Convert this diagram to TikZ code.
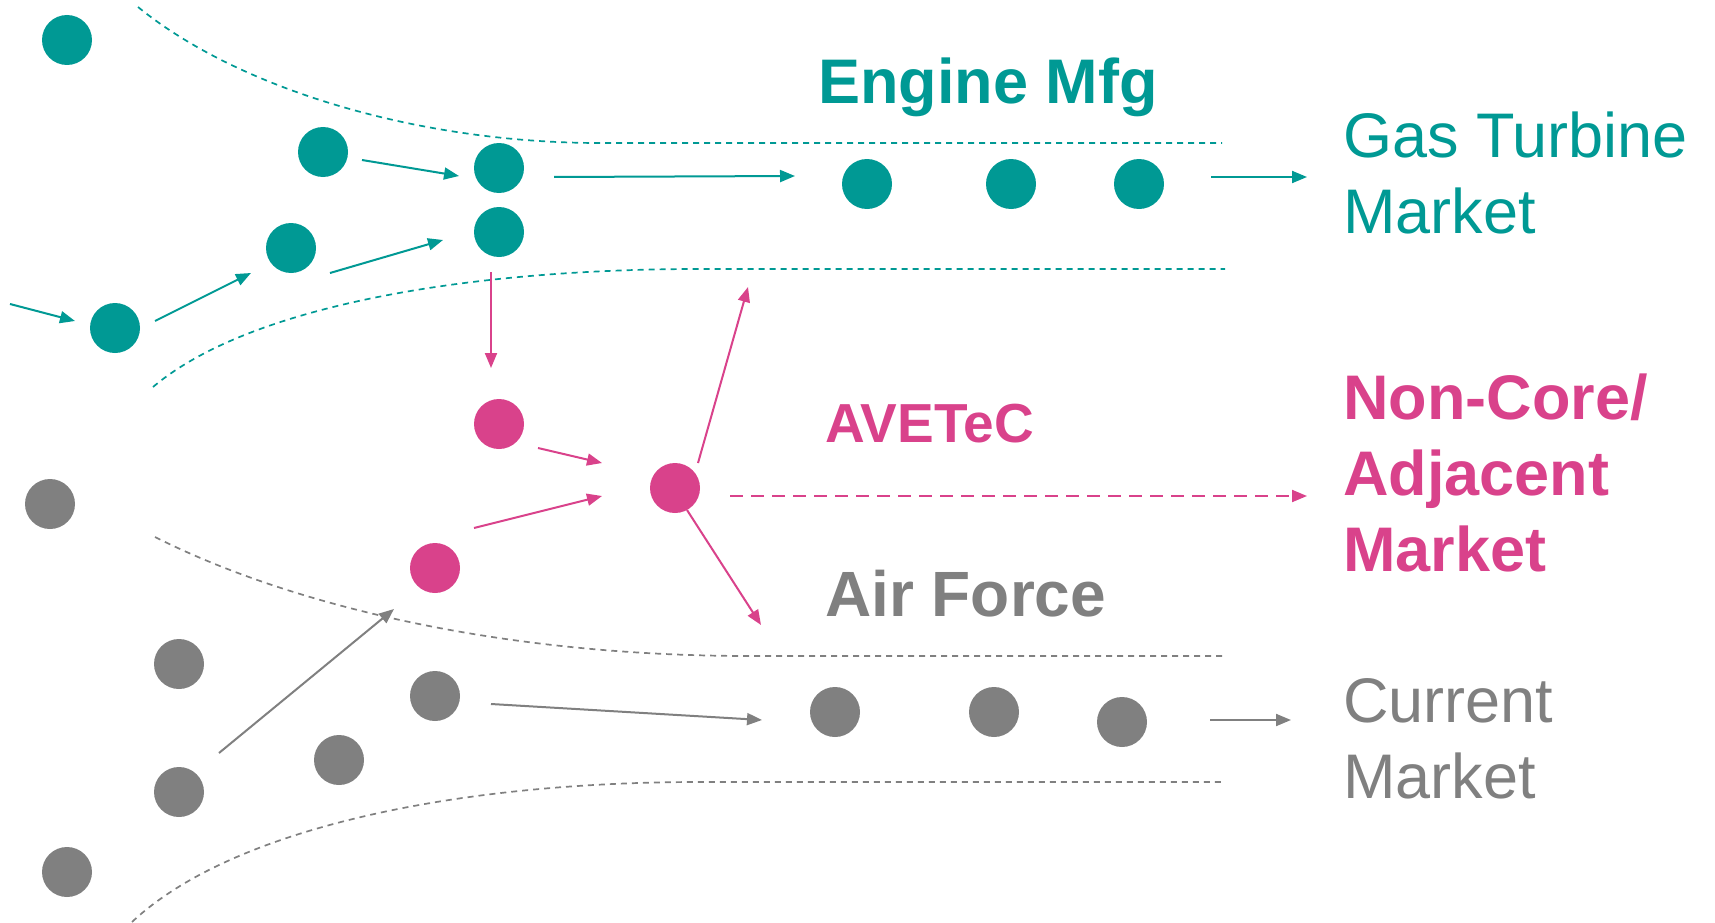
\documentclass[tikz,border=0pt]{standalone}
\usepackage{fontspec}
\setmainfont{Liberation Sans}
\usetikzlibrary{arrows.meta}
\definecolor{teal1}{RGB}{0,153,148}
\definecolor{pink1}{RGB}{217,66,139}
\definecolor{gray1}{RGB}{128,128,128}
\tikzset{
  dot/.style={circle,inner sep=0pt,minimum size=50pt,fill=#1,draw=none},
  arr/.style={draw=#1,line width=2pt,-{Triangle[length=15pt,width=12pt]}},
  bound/.style={draw=#1,line width=1.7pt,dash pattern=on 6pt off 5pt},
  lbl/.style={inner sep=0pt,anchor=base west,align=left,text=#1},
  big/.style={font=\fontsize{63}{76}\selectfont},
  bigb/.style={font=\fontsize{63}{76}\selectfont\bfseries},
}
\begin{document}
\begin{tikzpicture}[x=1pt,y=-1pt]
\useasboundingbox (0,0) rectangle (1715,923);
% boundaries
\draw[bound=teal1] (138,7) .. controls (240,90) and (420,143) .. (600,143) -- (1222,143);
\draw[bound=teal1] (153,387) .. controls (250,305) and (470,269) .. (700,269) -- (1225,269);
\draw[bound=gray1] (155,537) .. controls (290,605) and (500,656) .. (750,656) -- (1222,656);
\draw[bound=gray1] (132,922) .. controls (230,830) and (450,782) .. (700,782) -- (1225,782);
% teal dots
\node[dot=teal1] (t1) at (67,40) {};
\node[dot=teal1] (t2) at (323,152) {};
\node[dot=teal1] (t3) at (499,168) {};
\node[dot=teal1] (t4) at (499,232) {};
\node[dot=teal1] (t5) at (291,248) {};
\node[dot=teal1] (t6) at (115,328) {};
\node[dot=teal1] (t7) at (867,184) {};
\node[dot=teal1] (t8) at (1011,184) {};
\node[dot=teal1] (t9) at (1139,184) {};
% pink dots
\node[dot=pink1] (p1) at (499,424) {};
\node[dot=pink1] (p2) at (435,568) {};
\node[dot=pink1] (p3) at (675,488) {};
% gray dots
\node[dot=gray1] (g1) at (50,504) {};
\node[dot=gray1] (g2) at (179,664) {};
\node[dot=gray1] (g3) at (179,792) {};
\node[dot=gray1] (g4) at (67,872) {};
\node[dot=gray1] (g5) at (339,760) {};
\node[dot=gray1] (g6) at (435,696) {};
\node[dot=gray1] (g7) at (835,712) {};
\node[dot=gray1] (g8) at (994,712) {};
\node[dot=gray1] (g9) at (1122,722) {};
% arrow end points
\coordinate (a0s) at (10,304);   \coordinate (a0e) at (75,321);
\coordinate (a1s) at (155,321);  \coordinate (a1e) at (251,273);
\coordinate (a2s) at (330,273);  \coordinate (a2e) at (443,240);
\coordinate (a3s) at (362,160);  \coordinate (a3e) at (459,176);
\coordinate (a4s) at (554,177);  \coordinate (a4e) at (795,176);
\coordinate (a5s) at (1211,177); \coordinate (a5e) at (1307,177);
\coordinate (b0s) at (491,272);  \coordinate (b0e) at (491,368);
\coordinate (b1s) at (538,448);  \coordinate (b1e) at (602,463);
\coordinate (b2s) at (474,528);  \coordinate (b2e) at (602,496);
\coordinate (b3s) at (698,463);  \coordinate (b3e) at (748,287);
\coordinate (b4s) at (687,510);  \coordinate (b4e) at (761,625);
\coordinate (b5s) at (730,496);  \coordinate (b5e) at (1307,496);
\coordinate (c0s) at (219,753);  \coordinate (c0e) at (394,609);
\coordinate (c1s) at (491,704);  \coordinate (c1e) at (762,720);
\coordinate (c2s) at (1210,720); \coordinate (c2e) at (1291,720);
% teal arrows
\draw[arr=teal1] (a0s) -- (a0e);
\draw[arr=teal1] (a1s) -- (a1e);
\draw[arr=teal1] (a2s) -- (a2e);
\draw[arr=teal1] (a3s) -- (a3e);
\draw[arr=teal1] (a4s) -- (a4e);
\draw[arr=teal1] (a5s) -- (a5e);
% pink arrows
\draw[arr=pink1] (b0s) -- (b0e);
\draw[arr=pink1] (b1s) -- (b1e);
\draw[arr=pink1] (b2s) -- (b2e);
\draw[arr=pink1] (b3s) -- (b3e);
\draw[arr=pink1] (b4s) -- (b4e);
\draw[arr=pink1,dash pattern=on 13pt off 8pt] (b5s) -- (b5e);
% gray arrows
\draw[arr=gray1] (c0s) -- (c0e);
\draw[arr=gray1] (c1s) -- (c1e);
\draw[arr=gray1] (c2s) -- (c2e);
% labels (multi-line: anchor is on the last line's baseline)
\node[lbl=teal1,bigb] (engine) at (818,104) {Engine Mfg};
\node[lbl=teal1,big] (gas) at (1343,233) {Gas Turbine\\Market};
\node[lbl=pink1,font=\fontsize{55}{64}\selectfont\bfseries] (avetec) at (825,442) {AVETeC};
\node[lbl=pink1,bigb] (noncore) at (1343,571) {Non-Core/\\Adjacent\\Market};
\node[lbl=gray1,font=\fontsize{64}{76}\selectfont\bfseries] (airforce) at (825,616) {Air Force};
\node[lbl=gray1,big] (current) at (1343,798) {Current\\Market};
\end{tikzpicture}
\end{document}
